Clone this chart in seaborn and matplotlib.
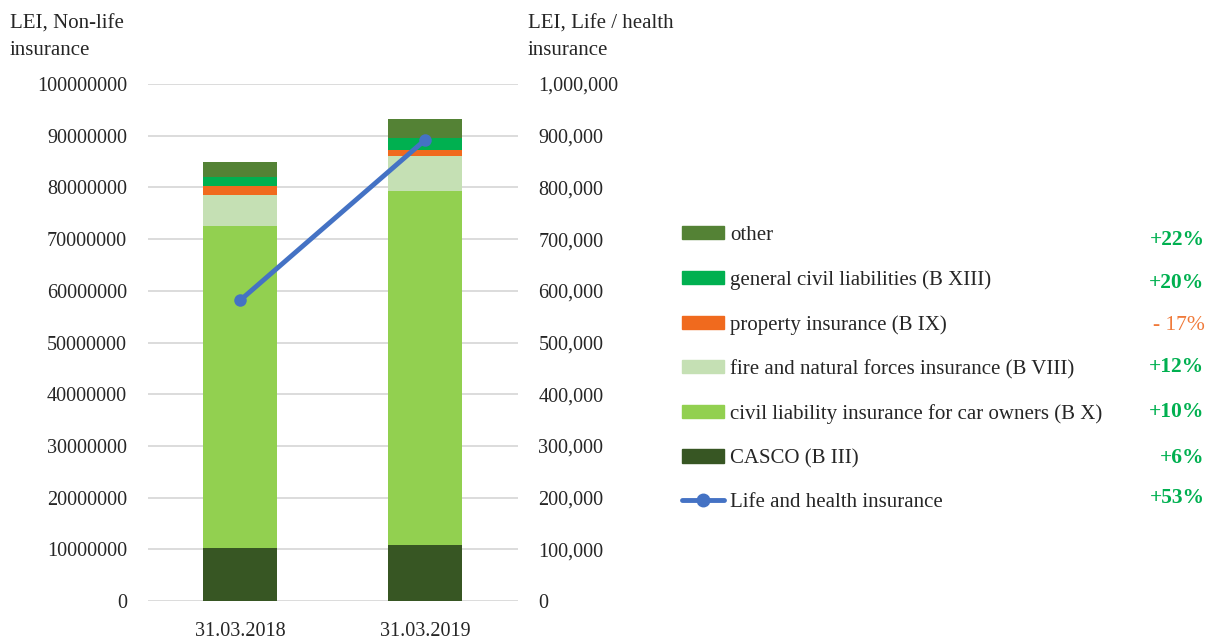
import numpy as np
import pandas as pd
import seaborn as sns
import matplotlib.pyplot as plt
from matplotlib.patches import Patch
from matplotlib.lines import Line2D
from matplotlib.ticker import FuncFormatter

sns.set_style('white')
plt.rcParams['font.family'] = ['Liberation Serif', 'DejaVu Serif']
plt.rcParams['font.size'] = 14.5

#data (LEI)
dates = ['31.03.2018', '31.03.2019']
casco = [10.3e6, 10.9e6]
civil_car = [62.3e6, 68.4e6]
fire = [5.9e6, 6.7e6]
property_ins = [1.7e6, 1.3e6]
general_civil = [1.8e6, 2.2e6]
other = [3.0e6, 3.8e6]
life_health = [582000, 892000]

layer_names = ['CASCO (B III)', 'civil liability insurance for car owners (B X)',
               'fire and natural forces insurance (B VIII)', 'property insurance (B IX)',
               'general civil liabilities (B XIII)', 'other']
layer_values = [casco, civil_car, fire, property_ins, general_civil, other]
layer_colors = ['#375623', '#92D050', '#C5E0B4', '#F06A1E', '#00B050', '#548235']
change_labels = ['+6%', '+10%', '+12%', '- 17%', '+20%', '+22%']
life_change = '+53%'
green_txt = '#00B050'
orange_txt = '#F07A3A'

#stacked bars: draw cumulative totals from the top layer down
cum_df = pd.DataFrame(np.cumsum(np.array(layer_values), axis=0).T, columns=layer_names)
cum_df['date'] = dates

fig = plt.figure(figsize=(12.08, 6.39), dpi=100)
ax = fig.add_axes([0.1225, 0.0595, 0.306, 0.809])

for i in reversed(range(len(layer_names))):
    sns.barplot(data=cum_df, x='date', y=layer_names[i], color=layer_colors[i],
                width=0.4, saturation=1, ax=ax, linewidth=0)

ax.set_ylim(0, 100e6)
ax.set_xlim(-0.5, 1.5)
ax.set_yticks(np.arange(0, 100e6 + 1, 10e6))
ax.yaxis.set_major_formatter(FuncFormatter(lambda v, p: f'{int(v)}'))
ax.grid(axis='y', color='#D9D9D9', linewidth=1.3)
ax.set_axisbelow(True)
ax.set_xlabel('')
ax.set_ylabel('')
ax.tick_params(axis='y', length=0, pad=15)
ax.tick_params(axis='x', length=0, pad=15)
for s in ax.spines.values():
    s.set_visible(False)

ax2 = ax.twinx()
sns.lineplot(x=np.arange(len(dates)), y=life_health, ax=ax2, color='#4472C4',
             linewidth=3.5, marker='o', markersize=9, markeredgewidth=0)
ax2.set_ylim(0, 1000000)
ax2.set_yticks(np.arange(0, 1000001, 100000))
ax2.yaxis.set_major_formatter(FuncFormatter(lambda v, p: f'{int(v):,}'))
ax2.tick_params(axis='y', length=0, pad=15)
for s in ax2.spines.values():
    s.set_visible(False)

fig.text(0.008, 0.978, 'LEI, Non-life\ninsurance', ha='left', va='top', linespacing=1.6, fontsize=15)
fig.text(0.437, 0.978, 'LEI, Life / health\ninsurance', ha='left', va='top', linespacing=1.6, fontsize=15)

#legend, top row first
handles = [Patch(color=layer_colors[i]) for i in reversed(range(len(layer_names)))]
labels = [layer_names[i] for i in reversed(range(len(layer_names)))]
handles.append(Line2D([], [], color='#4472C4', linewidth=3.5, marker='o', markersize=9))
labels.append('Life and health insurance')
fig.legend(handles, labels, loc='upper left', bbox_to_anchor=(0.5646, 0.646), frameon=False,
           fontsize=15, handlelength=2.0, handleheight=0.6, handletextpad=0.3, labelspacing=1.2,
           borderaxespad=0, borderpad=0)

changes = [change_labels[i] for i in reversed(range(len(change_labels)))] + [life_change]
row_y = [240, 283, 326, 367, 412, 458, 498]
for txt, y in zip(changes, row_y):
    col = orange_txt if txt.startswith('-') else green_txt
    fig.text(0.997, 1 - y / 639, txt, ha='right', va='center', color=col, fontsize=15.5,
             fontweight='bold' if col == green_txt else 'normal')

plt.savefig('out.png', dpi=100)
plt.close()
